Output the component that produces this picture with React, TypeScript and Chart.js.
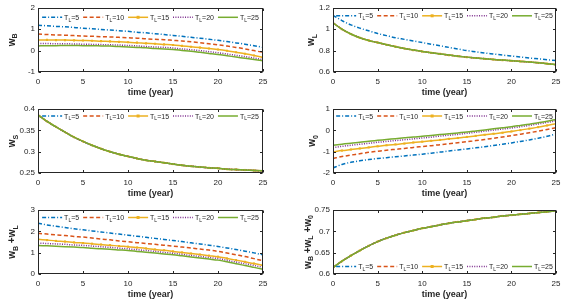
import React, { useEffect, useRef } from "react";
import { Chart, registerables } from "chart.js";

Chart.register(...registerables);

// ---------- data ----------
const YEARS = [0, 1, 2, 3, 4, 5, 6, 7, 8, 9, 10, 11, 12, 13, 14, 15, 16, 17, 18, 19, 20, 21, 22, 23, 24, 25];
const SERIES_NAMES = ["5", "10", "15", "20", "25"];
const X_TICKS = [0, 5, 10, 15, 20, 25];
const X_TICK_LABELS = ["0", "5", "10", "15", "20", "25"];

// w_B
const WB_T5 = [1.18, 1.16, 1.13, 1.11, 1.08, 1.05, 1.02, 0.99, 0.96, 0.93, 0.9, 0.86, 0.83, 0.79, 0.75, 0.71, 0.67, 0.62, 0.58, 0.53, 0.48, 0.42, 0.36, 0.3, 0.23, 0.15];
const WB_T10 = [0.77, 0.75, 0.73, 0.72, 0.7, 0.68, 0.67, 0.65, 0.64, 0.62, 0.6, 0.58, 0.55, 0.53, 0.51, 0.48, 0.45, 0.41, 0.37, 0.32, 0.27, 0.21, 0.15, 0.08, 0.0, -0.08];
const WB_T15 = [0.5, 0.5, 0.49, 0.49, 0.48, 0.47, 0.46, 0.44, 0.43, 0.41, 0.39, 0.37, 0.34, 0.32, 0.29, 0.26, 0.22, 0.18, 0.14, 0.1, 0.05, -0.01, -0.08, -0.15, -0.23, -0.32];
const WB_T20 = [0.33, 0.33, 0.32, 0.32, 0.31, 0.3, 0.29, 0.28, 0.27, 0.26, 0.24, 0.22, 0.19, 0.17, 0.15, 0.12, 0.08, 0.04, 0.0, -0.05, -0.1, -0.16, -0.22, -0.28, -0.35, -0.42];
const WB_T25 = [0.22, 0.23, 0.23, 0.24, 0.24, 0.23, 0.23, 0.22, 0.21, 0.19, 0.17, 0.15, 0.13, 0.1, 0.08, 0.05, 0.01, -0.03, -0.08, -0.13, -0.18, -0.24, -0.3, -0.36, -0.42, -0.48];

// w_L
const WL_T5 = [1.13, 1.08, 1.04, 1.01, 0.985, 0.96, 0.94, 0.92, 0.905, 0.89, 0.875, 0.86, 0.845, 0.83, 0.815, 0.8, 0.789, 0.778, 0.768, 0.758, 0.749, 0.74, 0.731, 0.723, 0.715, 0.707];
const WL_OTHERS = [1.06, 1.0, 0.955, 0.92, 0.895, 0.875, 0.855, 0.837, 0.82, 0.805, 0.792, 0.78, 0.769, 0.758, 0.748, 0.739, 0.731, 0.724, 0.717, 0.711, 0.705, 0.699, 0.693, 0.686, 0.678, 0.668];

// w_S
const WS_ALL = [0.386, 0.371, 0.358, 0.346, 0.334, 0.324, 0.315, 0.307, 0.3, 0.294, 0.289, 0.284, 0.28, 0.277, 0.274, 0.271, 0.268, 0.266, 0.264, 0.262, 0.261, 0.259, 0.258, 0.257, 0.256, 0.255];

// w_0
const W0_T5 = [-1.76, -1.6, -1.5, -1.43, -1.37, -1.32, -1.28, -1.24, -1.2, -1.16, -1.12, -1.07, -1.02, -0.97, -0.92, -0.87, -0.82, -0.77, -0.71, -0.65, -0.59, -0.52, -0.45, -0.37, -0.28, -0.17];
const W0_T10 = [-1.32, -1.23, -1.16, -1.1, -1.03, -0.98, -0.93, -0.89, -0.85, -0.8, -0.76, -0.72, -0.67, -0.63, -0.58, -0.53, -0.48, -0.43, -0.37, -0.31, -0.25, -0.18, -0.11, -0.04, 0.04, 0.12];
const W0_T15 = [-1.01, -0.95, -0.9, -0.85, -0.8, -0.75, -0.7, -0.66, -0.62, -0.57, -0.53, -0.49, -0.45, -0.4, -0.36, -0.31, -0.26, -0.21, -0.16, -0.11, -0.05, 0.01, 0.08, 0.15, 0.23, 0.31];
const W0_T20 = [-0.81, -0.75, -0.7, -0.65, -0.61, -0.56, -0.52, -0.48, -0.44, -0.4, -0.36, -0.32, -0.27, -0.23, -0.19, -0.14, -0.09, -0.04, 0.01, 0.06, 0.11, 0.17, 0.23, 0.3, 0.37, 0.45];
const W0_T25 = [-0.7, -0.65, -0.6, -0.56, -0.51, -0.47, -0.43, -0.39, -0.35, -0.31, -0.28, -0.24, -0.2, -0.16, -0.12, -0.08, -0.03, 0.02, 0.07, 0.12, 0.17, 0.23, 0.29, 0.36, 0.43, 0.51];

// w_B + w_L
const WBL_T5 = [2.38, 2.3, 2.24, 2.18, 2.12, 2.07, 2.02, 1.97, 1.92, 1.87, 1.82, 1.77, 1.72, 1.67, 1.62, 1.57, 1.52, 1.46, 1.41, 1.35, 1.29, 1.22, 1.15, 1.07, 0.99, 0.9];
const WBL_T10 = [1.91, 1.87, 1.83, 1.8, 1.76, 1.73, 1.69, 1.64, 1.6, 1.55, 1.51, 1.47, 1.43, 1.39, 1.35, 1.31, 1.26, 1.22, 1.17, 1.12, 1.06, 0.98, 0.9, 0.82, 0.72, 0.62];
const WBL_T15 = [1.63, 1.59, 1.55, 1.52, 1.48, 1.45, 1.42, 1.38, 1.35, 1.31, 1.28, 1.24, 1.2, 1.15, 1.11, 1.06, 1.01, 0.96, 0.91, 0.86, 0.81, 0.73, 0.65, 0.57, 0.49, 0.4];
const WBL_T20 = [1.45, 1.43, 1.41, 1.39, 1.36, 1.34, 1.31, 1.28, 1.25, 1.21, 1.18, 1.14, 1.1, 1.06, 1.01, 0.97, 0.92, 0.87, 0.82, 0.77, 0.72, 0.64, 0.56, 0.48, 0.4, 0.31];
const WBL_T25 = [1.34, 1.32, 1.3, 1.28, 1.26, 1.24, 1.21, 1.18, 1.16, 1.13, 1.1, 1.06, 1.02, 0.98, 0.94, 0.9, 0.85, 0.8, 0.75, 0.7, 0.65, 0.57, 0.48, 0.4, 0.31, 0.22];

// w_B + w_L + w_0
const WBLO_ALL = [0.615, 0.63, 0.643, 0.655, 0.666, 0.676, 0.684, 0.691, 0.697, 0.702, 0.707, 0.711, 0.715, 0.719, 0.722, 0.725, 0.728, 0.731, 0.733, 0.736, 0.738, 0.74, 0.742, 0.744, 0.746, 0.748];

// y ticks
const WB_YTICKS = [-1, 0, 1, 2];
const WB_YLABELS = ["-1", "0", "1", "2"];
const WL_YTICKS = [0.6, 0.8, 1, 1.2];
const WL_YLABELS = ["0.6", "0.8", "1", "1.2"];
const WS_YTICKS = [0.25, 0.3, 0.35, 0.4];
const WS_YLABELS = ["0.25", "0.3", "0.35", "0.4"];
const W0_YTICKS = [-2, -1, 0, 1];
const W0_YLABELS = ["-2", "-1", "0", "1"];
const WBL_YTICKS = [0, 1, 2, 3];
const WBL_YLABELS = ["0", "1", "2", "3"];
const WBLO_YTICKS = [0.6, 0.65, 0.7, 0.75];
const WBLO_YLABELS = ["0.6", "0.65", "0.7", "0.75"];

// ---------- styles ----------
const FONT = '"Liberation Sans", Arial, Helvetica, sans-serif';
const AXIS_COLOR = "#262626";
const COLORS = ["#0072BD", "#D95319", "#EDB120", "#7E2F8E", "#77AC30"];
const DASHES: number[][] = [[4, 2, 1, 2], [4, 2.5], [], [1, 1.4], []];
const LINE_W = 1.5;

type Part = [string, boolean];

interface Panel {
  series: number[][];
  ymin: number;
  ymax: number;
  yticks: number[];
  ylabels: string[];
  ylabel: Part[];
  col: number;
  row: number;
  legendPos: "top" | "bottom";
  legendOffset: number;
  ylabelX: number;
}

const PANELS: Panel[] = [
  { series: [WB_T5, WB_T10, WB_T15, WB_T20, WB_T25], ymin: -1, ymax: 2, yticks: WB_YTICKS, ylabels: WB_YLABELS, ylabel: [["w", false], ["B", true]], col: 0, row: 0, legendPos: "top", legendOffset: 9.5, ylabelX: 12 },
  { series: [WL_T5, WL_OTHERS, WL_OTHERS, WL_OTHERS, WL_OTHERS], ymin: 0.6, ymax: 1.2, yticks: WL_YTICKS, ylabels: WL_YLABELS, ylabel: [["w", false], ["L", true]], col: 1, row: 0, legendPos: "top", legendOffset: 8, ylabelX: 29.5 },
  { series: [WS_ALL, WS_ALL, WS_ALL, WS_ALL, WS_ALL], ymin: 0.25, ymax: 0.4, yticks: WS_YTICKS, ylabels: WS_YLABELS, ylabel: [["w", false], ["S", true]], col: 0, row: 1, legendPos: "top", legendOffset: 7, ylabelX: 12.5 },
  { series: [W0_T5, W0_T10, W0_T15, W0_T20, W0_T25], ymin: -2, ymax: 1, yticks: W0_YTICKS, ylabels: W0_YLABELS, ylabel: [["w", false], ["0", true]], col: 1, row: 1, legendPos: "top", legendOffset: 7, ylabelX: 30.5 },
  { series: [WBL_T5, WBL_T10, WBL_T15, WBL_T20, WBL_T25], ymin: 0, ymax: 3, yticks: WBL_YTICKS, ylabels: WBL_YLABELS, ylabel: [["w", false], ["B", true], [" +w", false], ["L", true]], col: 0, row: 2, legendPos: "top", legendOffset: 7.5, ylabelX: 12.5 },
  { series: [WBLO_ALL, WBLO_ALL, WBLO_ALL, WBLO_ALL, WBLO_ALL], ymin: 0.6, ymax: 0.75, yticks: WBLO_YTICKS, ylabels: WBLO_YLABELS, ylabel: [["w", false], ["B", true], [" +w", false], ["L", true], [" +w", false], ["0", true]], col: 1, row: 2, legendPos: "bottom", legendOffset: 7.5, ylabelX: 26 },
];

const COLS = [
  { left: 0, width: 282, yAxisW: 38, padRight: 19 },
  { left: 282, width: 283, yAxisW: 51, padRight: 7 },
];
const ROWS = [
  { top: 0, height: 100, padTop: 6, xAxisH: 28 },
  { top: 100, height: 100, padTop: 9, xAxisH: 27 },
  { top: 200, height: 103, padTop: 10, xAxisH: 29 },
];

function measureParts(ctx: CanvasRenderingContext2D, parts: Part[], big: number, small: number, bold: boolean) {
  let w = 0;
  for (const [t, sub] of parts) {
    ctx.font = `${bold ? "bold " : ""}${sub ? small : big}px ${FONT}`;
    w += ctx.measureText(t).width;
  }
  return w;
}

function drawParts(ctx: CanvasRenderingContext2D, parts: Part[], x: number, y: number, big: number, small: number, bold: boolean, subShift: number) {
  let cx = x;
  for (const [t, sub] of parts) {
    ctx.font = `${bold ? "bold " : ""}${sub ? small : big}px ${FONT}`;
    ctx.fillText(t, cx, sub ? y + subShift : y);
    cx += ctx.measureText(t).width;
  }
  return cx;
}

const decorPlugin = {
  id: "decor",
  afterDraw(chart: any, _args: any, opts: any) {
    const p: Panel = opts.panel;
    const ctx: CanvasRenderingContext2D = chart.ctx;
    const a = chart.chartArea;
    const xs = chart.scales.x;
    const ys = chart.scales.y;
    ctx.save();
    // box
    const L = Math.round(a.left) + 0.5;
    const R = Math.round(a.right) - 0.5;
    const T = Math.round(a.top) + 0.5;
    const B = Math.round(a.bottom) - 0.5;
    ctx.strokeStyle = AXIS_COLOR;
    ctx.lineWidth = 1;
    ctx.setLineDash([]);
    ctx.strokeRect(L, T, R - L, B - T);
    // inward ticks
    const tl = 2.5;
    ctx.beginPath();
    for (const v of X_TICKS) {
      const px = Math.round(xs.getPixelForValue(v)) + 0.5;
      ctx.moveTo(px, B);
      ctx.lineTo(px, B - tl);
      ctx.moveTo(px, T);
      ctx.lineTo(px, T + tl);
    }
    for (const v of p.yticks) {
      const py = Math.round(ys.getPixelForValue(v)) + 0.5;
      ctx.moveTo(L, py);
      ctx.lineTo(L + tl, py);
      ctx.moveTo(R, py);
      ctx.lineTo(R - tl, py);
    }
    ctx.stroke();

    ctx.fillStyle = AXIS_COLOR;
    // x title
    ctx.font = `bold 9px ${FONT}`;
    ctx.textAlign = "center";
    ctx.textBaseline = "middle";
    ctx.fillText("time (year)", (a.left + a.right) / 2, a.bottom + 21);

    // y title (rotated, with subscripts)
    ctx.textAlign = "left";
    ctx.textBaseline = "alphabetic";
    const w = measureParts(ctx, p.ylabel, 10, 7, true);
    ctx.save();
    ctx.translate(p.ylabelX, (a.top + a.bottom) / 2);
    ctx.rotate(-Math.PI / 2);
    drawParts(ctx, p.ylabel, -w / 2, 2.6, 10, 7, true, 2.6);
    ctx.restore();

    // legend
    const sampleLen = 20;
    const gapAfterSample = 2;
    const gapItems = 4;
    const textWidths = SERIES_NAMES.map((n) => measureParts(ctx, [["T", false], ["L", true], ["=" + n, false]], 7, 5, false));
    const total = SERIES_NAMES.length * (sampleLen + gapAfterSample) + textWidths.reduce((s, v) => s + v, 0) + gapItems * (SERIES_NAMES.length - 1);
    let lx = (a.left + a.right) / 2 - total / 2;
    const ly = p.legendPos === "top" ? a.top + p.legendOffset : a.bottom - p.legendOffset;
    SERIES_NAMES.forEach((n, i) => {
      ctx.strokeStyle = COLORS[i];
      ctx.lineWidth = LINE_W;
      ctx.setLineDash(DASHES[i]);
      ctx.beginPath();
      ctx.moveTo(lx, ly);
      ctx.lineTo(lx + sampleLen, ly);
      ctx.stroke();
      ctx.setLineDash([]);
      if (i === 2) {
        ctx.fillStyle = COLORS[i];
        ctx.fillRect(lx + sampleLen / 2 - 1.5, ly - 1.5, 3, 3);
      }
      lx += sampleLen + gapAfterSample;
      ctx.fillStyle = AXIS_COLOR;
      drawParts(ctx, [["T", false], ["L", true], ["=" + n, false]], lx, ly + 2.5, 7, 5, false, 1.8);
      lx += textWidths[i] + gapItems;
    });
    ctx.restore();
  },
};

function PanelChart({ panel }: { panel: Panel }) {
  const ref = useRef<HTMLCanvasElement | null>(null);
  const col = COLS[panel.col];
  const row = ROWS[panel.row];
  useEffect(() => {
    if (!ref.current) return;
    const datasets = panel.series.map((vals, i) => ({
      label: "T_L=" + SERIES_NAMES[i],
      data: YEARS.map((x, j) => ({ x, y: vals[j] })),
      borderColor: COLORS[i],
      backgroundColor: COLORS[i],
      borderWidth: LINE_W,
      borderDash: DASHES[i],
      pointRadius: i === 2 ? 1.5 : 0,
      pointStyle: "rect",
      pointBorderWidth: 0,
      pointBackgroundColor: COLORS[i],
      cubicInterpolationMode: "monotone",
      fill: false,
      order: 4 - i,
    }));
    const tickFont = { family: FONT, size: 8 };
    const chart = new Chart(ref.current, {
      type: "line",
      data: { datasets },
      plugins: [decorPlugin],
      options: {
        responsive: false,
        animation: false,
        devicePixelRatio: 1,
        events: [],
        layout: { padding: { top: row.padTop, right: col.padRight, left: 0, bottom: 0 } },
        plugins: {
          legend: { display: false },
          tooltip: { enabled: false },
          decor: { panel },
        },
        scales: {
          x: {
            type: "linear",
            min: 0,
            max: 25,
            afterBuildTicks: (s: any) => {
              s.ticks = X_TICKS.map((v) => ({ value: v }));
            },
            ticks: {
              font: tickFont,
              color: AXIS_COLOR,
              padding: 4.5,
              maxRotation: 0,
              autoSkip: false,
              callback: (_v: any, i: number) => X_TICK_LABELS[i],
            },
            grid: { display: false, drawTicks: false },
            border: { display: false },
            afterFit: (s: any) => {
              s.height = row.xAxisH;
            },
          },
          y: {
            type: "linear",
            min: panel.ymin,
            max: panel.ymax,
            afterBuildTicks: (s: any) => {
              s.ticks = panel.yticks.map((v) => ({ value: v }));
            },
            ticks: {
              font: tickFont,
              color: AXIS_COLOR,
              padding: 3,
              autoSkip: false,
              callback: (_v: any, i: number) => panel.ylabels[i],
            },
            grid: { display: false, drawTicks: false },
            border: { display: false },
            afterFit: (s: any) => {
              s.width = col.yAxisW;
            },
          },
        },
      } as any,
    });
    return () => chart.destroy();
  }, [panel]);
  return (
    <canvas
      ref={ref}
      width={col.width}
      height={row.height}
      style={{ position: "absolute", left: col.left, top: row.top, width: col.width, height: row.height }}
    />
  );
}

export default function App() {
  return (
    <div style={{ position: "absolute", left: 0, top: 0, width: 565, height: 303, background: "#ffffff", overflow: "hidden" }}>
      {PANELS.map((p, i) => (
        <PanelChart key={i} panel={p} />
      ))}
    </div>
  );
}
